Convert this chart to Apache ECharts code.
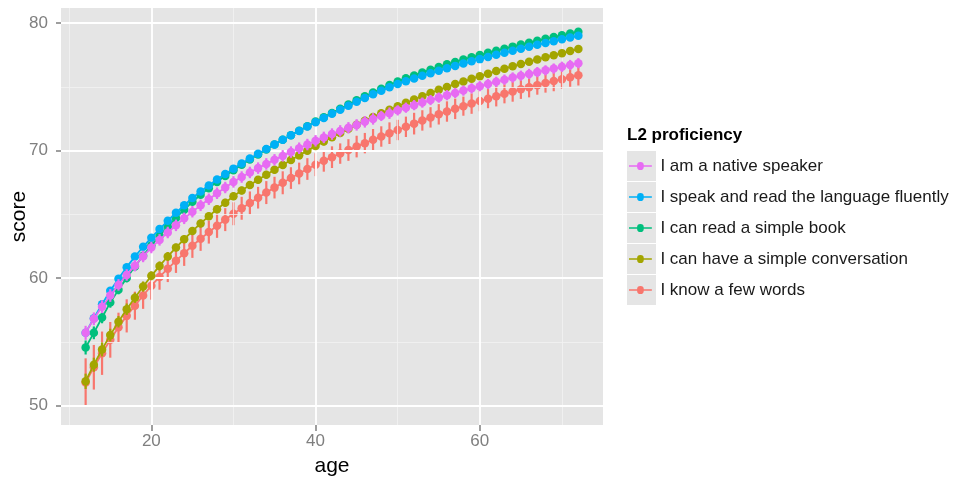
<!DOCTYPE html>
<html>
<head>
<meta charset="utf-8">
<script src="https://cdn.jsdelivr.net/npm/echarts@6/dist/echarts.min.js"></script>
<style>
  html, body { margin: 0; padding: 0; background: #ffffff; }
  #chart { width: 955px; height: 477px; }
</style>
</head>
<body>
<div id="chart"></div>
<script>
// Predicted score by age for each L2 proficiency group (point estimate and error half-width)
const ages = [12, 13, 14, 15, 16, 17, 18, 19, 20, 21, 22, 23, 24, 25, 26, 27, 28, 29, 30, 31,
  32, 33, 34, 35, 36, 37, 38, 39, 40, 41, 42, 43, 44, 45, 46, 47, 48, 49, 50, 51,
  52, 53, 54, 55, 56, 57, 58, 59, 60, 61, 62, 63, 64, 65, 66, 67, 68, 69, 70, 71, 72];

const nativeSpeaker = [55.70, 56.80, 57.75, 58.63, 59.46, 60.24, 60.97, 61.69, 62.39, 62.99,
  63.57, 64.13, 64.68, 65.20, 65.70, 66.18, 66.65, 67.10, 67.54, 67.92,
  68.28, 68.62, 68.95, 69.27, 69.58, 69.88, 70.18, 70.47, 70.76, 71.03,
  71.29, 71.54, 71.78, 72.01, 72.25, 72.48, 72.71, 72.93, 73.15, 73.36,
  73.56, 73.76, 73.96, 74.15, 74.34, 74.52, 74.70, 74.88, 75.05, 75.22,
  75.39, 75.56, 75.73, 75.87, 76.01, 76.15, 76.29, 76.43, 76.57, 76.71, 76.85];
const nativeSpeakerErr = [0.55, 0.50, 0.50, 0.50, 0.45, 0.45, 0.45, 0.45, 0.45, 0.45,
  0.45, 0.45, 0.45, 0.45, 0.45, 0.45, 0.45, 0.45, 0.45, 0.45,
  0.45, 0.45, 0.45, 0.45, 0.45, 0.45, 0.45, 0.45, 0.45, 0.45,
  0.45, 0.45, 0.45, 0.45, 0.45, 0.45, 0.40, 0.45, 0.40, 0.40,
  0.40, 0.40, 0.40, 0.40, 0.40, 0.40, 0.40, 0.40, 0.40, 0.40,
  0.40, 0.40, 0.40, 0.40, 0.40, 0.40, 0.40, 0.40, 0.40, 0.40, 0.40];

const fluent = [55.70, 56.85, 57.95, 59.00, 59.95, 60.85, 61.68, 62.45, 63.16, 63.84,
  64.49, 65.11, 65.71, 66.28, 66.78, 67.26, 67.72, 68.16, 68.58, 68.98,
  69.37, 69.75, 70.12, 70.48, 70.84, 71.19, 71.54, 71.88, 72.22, 72.55,
  72.88, 73.20, 73.51, 73.82, 74.12, 74.41, 74.69, 74.96, 75.22, 75.44,
  75.65, 75.86, 76.06, 76.26, 76.45, 76.64, 76.82, 77.00, 77.17, 77.34,
  77.51, 77.67, 77.83, 77.99, 78.14, 78.29, 78.44, 78.58, 78.72, 78.86, 79.00];
const fluentErr = [0.25, 0.25, 0.25, 0.20, 0.20, 0.20, 0.20, 0.20, 0.20, 0.20,
  0.20, 0.20, 0.20, 0.20, 0.20, 0.20, 0.20, 0.20, 0.20, 0.20,
  0.20, 0.20, 0.20, 0.20, 0.20, 0.20, 0.20, 0.20, 0.20, 0.20,
  0.20, 0.20, 0.20, 0.20, 0.20, 0.20, 0.20, 0.20, 0.20, 0.20,
  0.20, 0.20, 0.20, 0.20, 0.20, 0.20, 0.20, 0.20, 0.20, 0.20,
  0.20, 0.20, 0.20, 0.20, 0.20, 0.20, 0.20, 0.20, 0.20, 0.20, 0.20];

const simpleBook = [54.55, 55.70, 56.90, 58.07, 59.07, 60.01, 60.90, 61.75, 62.56, 63.31,
  64.04, 64.71, 65.36, 65.98, 66.53, 67.05, 67.54, 68.01, 68.46, 68.88,
  69.29, 69.69, 70.08, 70.48, 70.85, 71.20, 71.56, 71.91, 72.27, 72.61,
  72.95, 73.28, 73.61, 73.94, 74.25, 74.55, 74.85, 75.14, 75.42, 75.66,
  75.89, 76.12, 76.34, 76.56, 76.76, 76.95, 77.14, 77.32, 77.49, 77.66,
  77.83, 77.99, 78.15, 78.31, 78.46, 78.61, 78.76, 78.90, 79.04, 79.18, 79.32];
const simpleBookErr = [0.55, 0.50, 0.45, 0.40, 0.35, 0.35, 0.30, 0.30, 0.30, 0.25,
  0.25, 0.25, 0.25, 0.25, 0.25, 0.25, 0.25, 0.25, 0.25, 0.25,
  0.20, 0.20, 0.20, 0.20, 0.20, 0.20, 0.20, 0.20, 0.20, 0.20,
  0.20, 0.20, 0.20, 0.20, 0.20, 0.20, 0.20, 0.20, 0.20, 0.20,
  0.20, 0.20, 0.20, 0.20, 0.20, 0.20, 0.20, 0.20, 0.20, 0.20,
  0.20, 0.20, 0.20, 0.20, 0.20, 0.20, 0.20, 0.20, 0.20, 0.20, 0.20];

const simpleConversation = [51.90, 53.20, 54.40, 55.52, 56.57, 57.55, 58.45, 59.33, 60.17, 60.95,
  61.69, 62.39, 63.05, 63.68, 64.28, 64.85, 65.39, 65.91, 66.41, 66.86,
  67.29, 67.70, 68.10, 68.49, 68.87, 69.25, 69.62, 69.99, 70.35, 70.70,
  71.04, 71.37, 71.70, 72.02, 72.33, 72.63, 72.92, 73.20, 73.47, 73.74,
  74.00, 74.26, 74.51, 74.76, 74.99, 75.21, 75.42, 75.63, 75.83, 76.03,
  76.23, 76.42, 76.61, 76.79, 76.97, 77.14, 77.31, 77.48, 77.64, 77.80, 77.96];
const simpleConversationErr = [0.60, 0.55, 0.55, 0.50, 0.45, 0.45, 0.40, 0.40, 0.35, 0.35,
  0.35, 0.30, 0.30, 0.30, 0.30, 0.30, 0.30, 0.30, 0.30, 0.30,
  0.30, 0.30, 0.30, 0.30, 0.30, 0.30, 0.30, 0.30, 0.30, 0.30,
  0.25, 0.25, 0.25, 0.25, 0.25, 0.25, 0.25, 0.25, 0.25, 0.25,
  0.25, 0.25, 0.25, 0.25, 0.25, 0.25, 0.25, 0.25, 0.25, 0.25,
  0.25, 0.25, 0.25, 0.25, 0.25, 0.25, 0.25, 0.25, 0.25, 0.25, 0.25];

const fewWords = [51.80, 53.00, 54.10, 55.15, 56.13, 57.03, 57.83, 58.63, 59.40, 60.08,
  60.73, 61.35, 61.95, 62.53, 63.08, 63.60, 64.10, 64.58, 65.04, 65.47,
  65.89, 66.30, 66.70, 67.09, 67.47, 67.84, 68.20, 68.55, 68.89, 69.19,
  69.48, 69.76, 70.04, 70.31, 70.58, 70.84, 71.10, 71.36, 71.61, 71.86,
  72.11, 72.36, 72.60, 72.84, 73.06, 73.27, 73.48, 73.68, 73.88, 74.07,
  74.26, 74.45, 74.63, 74.80, 74.97, 75.13, 75.29, 75.45, 75.60, 75.75, 75.90];
const fewWordsErr = [1.90, 1.75, 1.70, 1.40, 1.15, 1.30, 1.10, 1.05, 1.10, 1.00,
  1.05, 0.95, 1.00, 0.95, 0.95, 0.90, 0.95, 0.90, 0.90, 0.90,
  0.90, 0.85, 0.90, 0.85, 0.90, 0.85, 0.85, 0.85, 0.90, 0.85,
  0.85, 0.80, 0.85, 0.85, 0.80, 0.85, 0.80, 0.85, 0.80, 0.80,
  0.85, 0.80, 0.80, 0.80, 0.80, 0.80, 0.75, 0.80, 0.80, 0.75,
  0.80, 0.75, 0.80, 0.75, 0.80, 0.75, 0.75, 0.80, 0.75, 0.75, 0.80];

// Legend labels, top to bottom
const groupNames = [
  'I am a native speaker',
  'I speak and read the language fluently',
  'I can read a simple book',
  'I can have a simple conversation',
  'I know a few words'
];
const groupColors = ['#E76BF3', '#00B0F6', '#00BF7D', '#A3A500', '#F8766D'];
const groupValues = [nativeSpeaker, fluent, simpleBook, simpleConversation, fewWords];
const groupErrors = [nativeSpeakerErr, fluentErr, simpleBookErr, simpleConversationErr, fewWordsErr];

// Axis breaks
const xTicks = [20, 40, 60];
const xMinor = [10, 30, 50, 70];
const yTicks = [50, 60, 70, 80];
const yMinor = [55, 65, 75];

const FONT = '"Liberation Sans", Arial, Helvetica, sans-serif';
const PANEL = { left: 61, top: 8, width: 542, height: 417 };

const chart = echarts.init(document.getElementById('chart'), null, { renderer: 'canvas' });

// Background grid lines drawn through the axis scales
const gridSeries = {
  type: 'line',
  name: '__grid',
  data: [],
  z: 1,
  silent: true,
  markLine: {
    silent: true,
    symbol: 'none',
    animation: false,
    label: { show: false },
    emphasis: { disabled: true },
    data: [
      ...xMinor.map(v => ({ xAxis: v, lineStyle: { color: '#f2f2f2', width: 0.8, type: 'solid' } })),
      ...yMinor.map(v => ({ yAxis: v, lineStyle: { color: '#f2f2f2', width: 0.8, type: 'solid' } })),
      ...xTicks.map(v => ({ xAxis: v, lineStyle: { color: '#ffffff', width: 1.8, type: 'solid' } })),
      ...yTicks.map(v => ({ yAxis: v, lineStyle: { color: '#ffffff', width: 1.8, type: 'solid' } }))
    ]
  }
};

// Drawing order: last legend entry first, so the first ends on top
const drawOrder = [4, 3, 2, 1, 0];
const dataSeries = [];
drawOrder.forEach((g, k) => {
  const color = groupColors[g];
  const vals = groupValues[g];
  const errs = groupErrors[g];
  dataSeries.push({
    type: 'custom',
    name: groupNames[g] + ' (range)',
    z: 3 + k * 2,
    silent: true,
    data: ages.map((a, i) => [a, vals[i] - errs[i], vals[i] + errs[i]]),
    encode: { x: 0, y: [1, 2] },
    renderItem: function (params, api) {
      const p1 = api.coord([api.value(0), api.value(1)]);
      const p2 = api.coord([api.value(0), api.value(2)]);
      return {
        type: 'line',
        shape: { x1: p1[0], y1: p1[1], x2: p2[0], y2: p2[1] },
        style: { stroke: color, lineWidth: 2.2 }
      };
    }
  });
  dataSeries.push({
    type: 'line',
    name: groupNames[g],
    z: 4 + k * 2,
    data: ages.map((a, i) => [a, vals[i]]),
    symbol: 'circle',
    symbolSize: 8.5,
    showSymbol: true,
    color: color,
    itemStyle: { color: color },
    lineStyle: { color: color, width: 1.8 },
    emphasis: { disabled: true }
  });
});

// Key glyph: short line with a dot in the middle
const KEY_ICON = 'path://M0,3.3H8.5A3.5,3.5 0 0 1 15.5,3.3H24V4.7H15.5A3.5,3.5 0 0 1 8.5,4.7H0Z';

// One legend block per entry so each row sits on its grey key box
const rowCenters = [166, 197, 228, 259, 290];
const legends = groupNames.map((n, i) => ({
  data: [{ name: n, icon: KEY_ICON }],
  left: 629,
  top: rowCenters[i] - 10,
  padding: 0,
  orient: 'vertical',
  itemWidth: 24,
  itemHeight: 8,
  selectedMode: false,
  textStyle: { fontFamily: FONT, fontSize: 17, color: '#1a1a1a', padding: [0, 0, 0, 3], lineHeight: 20 }
}));

const keyBoxes = rowCenters.map(c => ({
  type: 'rect',
  shape: { x: 627, y: c - 15, width: 29, height: 30 },
  style: { fill: '#e5e5e5' },
  z: 0
}));

chart.setOption({
  animation: false,
  backgroundColor: '#ffffff',
  grid: {
    left: PANEL.left, top: PANEL.top, width: PANEL.width, height: PANEL.height,
    outerBoundsMode: 'none',
    containLabel: false,
    show: true, backgroundColor: '#e5e5e5', borderWidth: 0
  },
  xAxis: {
    type: 'value',
    min: 9, max: 75,
    name: 'age',
    nameLocation: 'middle',
    nameGap: 31,
    nameMoveOverlap: false,
    nameTextStyle: { fontFamily: FONT, fontSize: 21, color: '#000000' },
    axisLine: { show: false },
    axisTick: { show: true, length: 6, customValues: xTicks, lineStyle: { color: '#7f7f7f', width: 1.5 } },
    axisLabel: { customValues: xTicks, fontFamily: FONT, fontSize: 17, color: '#7f7f7f', margin: 8 },
    splitLine: { show: false }
  },
  yAxis: {
    type: 'value',
    min: 48.47, max: 81.18,
    name: 'score',
    nameLocation: 'middle',
    nameGap: 31,
    nameMoveOverlap: false,
    nameTextStyle: { fontFamily: FONT, fontSize: 21, color: '#000000' },
    axisLine: { show: false },
    axisTick: { show: true, length: 5, customValues: yTicks, lineStyle: { color: '#7f7f7f', width: 1.5 } },
    axisLabel: { customValues: yTicks, fontFamily: FONT, fontSize: 17, color: '#7f7f7f', margin: 13 },
    splitLine: { show: false }
  },
  legend: legends,
  graphic: [
    ...keyBoxes,
    {
      type: 'text',
      left: 627,
      top: 127,
      style: { text: 'L2 proficiency', font: 'bold 17px ' + FONT, fill: '#000000' },
      z: 1
    }
  ],
  series: [gridSeries, ...dataSeries]
});
</script>
</body>
</html>
